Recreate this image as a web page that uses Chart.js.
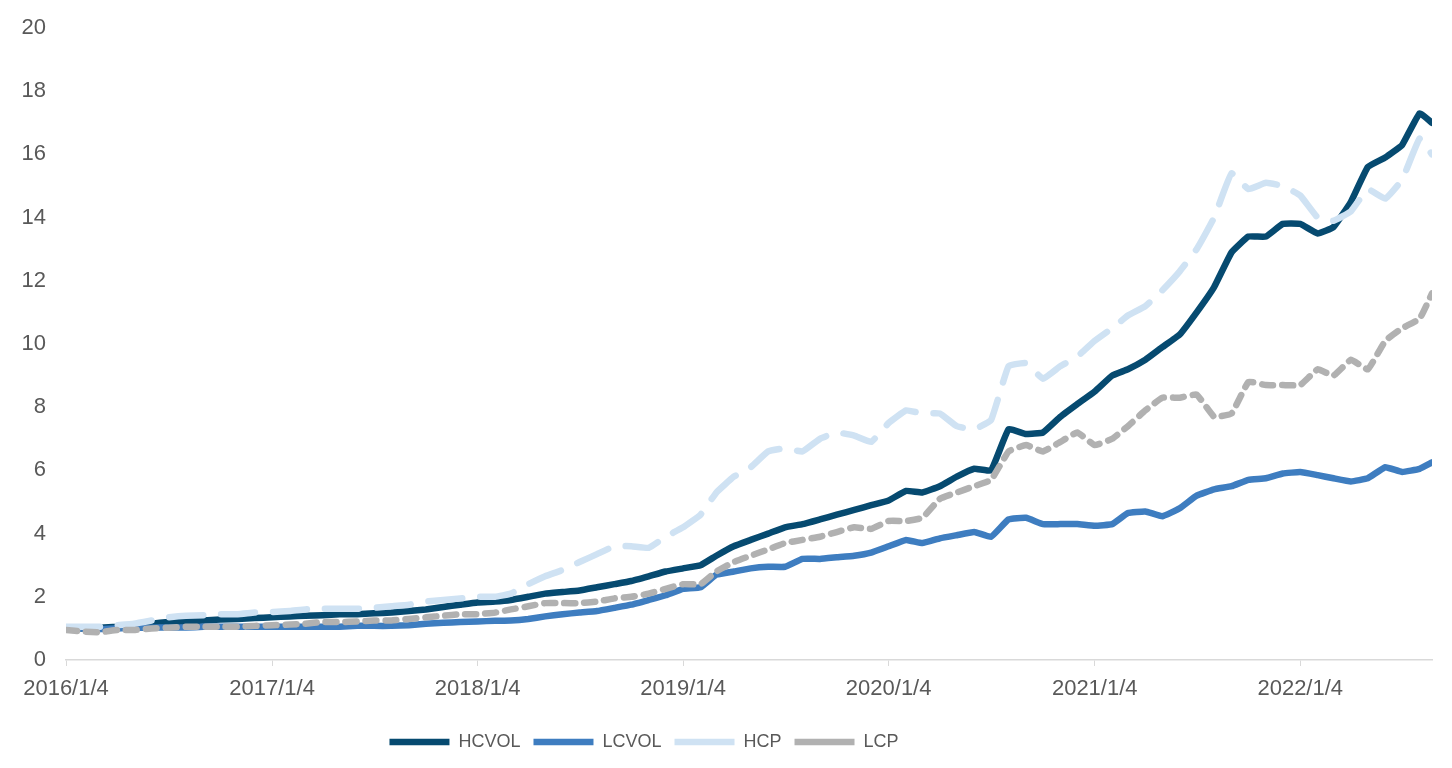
<!DOCTYPE html>
<html>
<head>
<meta charset="utf-8">
<script src="https://cdn.jsdelivr.net/npm/chart.js@4.4.1/dist/chart.umd.min.js"></script>
<style>
  html, body { margin: 0; padding: 0; background: #fff; }
  #wrap { width: 1452px; height: 768px; }
</style>
</head>
<body>
<div id="wrap"><canvas id="myChart" width="1452" height="768"></canvas></div>
<script>
// month-start sample dates 2016/1/4 .. 2022/8/4, plus the last day
const START = "2016/1/4";
const LAST = "2022/8/26";
const dates = [];
for (let y = 2016; y <= 2022; y++) {
  for (let m = 1; m <= 12; m++) {
    if (y === 2022 && m > 8) break;
    dates.push(`${y}/${m}/4`);
  }
}
dates.push(LAST);

const tickLabels = ["2016/1/4", "2017/1/4", "2018/1/4", "2019/1/4", "2020/1/4", "2021/1/4", "2022/1/4"];
const yTicks = [0, 2, 4, 6, 8, 10, 12, 14, 16, 18, 20];

const seriesNames = ["HCVOL", "LCVOL", "HCP", "LCP"];

const hcvol = [
  1.0, 1.0, 1.02, 1.05, 1.1, 1.15, 1.2, 1.22, 1.25, 1.28, 1.3, 1.33,
  1.35, 1.38, 1.4, 1.42, 1.45, 1.45, 1.48, 1.5, 1.55, 1.6, 1.68, 1.75,
  1.82, 1.85, 1.9, 2.0, 2.1, 2.15, 2.2, 2.3, 2.4, 2.5, 2.65, 2.8,
  2.9, 3.0, 3.3, 3.6, 3.8, 4.0, 4.2, 4.3, 4.45, 4.6, 4.75, 4.9,
  5.05, 5.35, 5.3, 5.5, 5.8, 6.05, 6.0, 7.3, 7.15, 7.2, 7.7, 8.1,
  8.5, 9.0, 9.2, 9.5, 9.9, 10.3, 11.0, 11.8, 12.9, 13.4, 13.4, 13.8,
  13.8, 13.5, 13.7, 14.5, 15.6, 15.9, 16.3, 17.3,
  17.0
];
const lcvol = [
  1.0, 1.0, 0.98, 1.0, 1.02, 1.02, 1.03, 1.03, 1.05, 1.05, 1.05, 1.05,
  1.05, 1.05, 1.05, 1.05, 1.05, 1.08, 1.08, 1.08, 1.1, 1.15, 1.18, 1.2,
  1.22, 1.24, 1.25, 1.3, 1.38, 1.45, 1.5, 1.55, 1.65, 1.75, 1.9, 2.05,
  2.25, 2.3, 2.7, 2.8, 2.9, 2.95, 2.95, 3.2, 3.2, 3.25, 3.3, 3.4,
  3.6, 3.8, 3.7, 3.85, 3.95, 4.05, 3.9, 4.45, 4.5, 4.3, 4.3, 4.3,
  4.25, 4.3, 4.65, 4.7, 4.55, 4.8, 5.2, 5.4, 5.5, 5.7, 5.75, 5.9,
  5.95, 5.85, 5.75, 5.65, 5.75, 6.1, 5.95, 6.05,
  6.25
];
const hcp = [
  1.05, 1.05, 1.05, 1.1, 1.15, 1.25, 1.35, 1.4, 1.42, 1.45, 1.45, 1.5,
  1.52, 1.55, 1.6, 1.62, 1.62, 1.62, 1.65, 1.7, 1.75, 1.85, 1.9, 1.95,
  2.0, 2.0, 2.1, 2.4, 2.65, 2.85, 3.1, 3.35, 3.6, 3.6, 3.55, 3.9,
  4.2, 4.6, 5.3, 5.8, 6.1, 6.6, 6.7, 6.6, 7.0, 7.2, 7.1, 6.9,
  7.5, 7.9, 7.8, 7.8, 7.4, 7.3, 7.6, 9.3, 9.4, 8.9, 9.3, 9.6,
  10.1, 10.5, 10.9, 11.2, 11.7, 12.3, 13.0, 14.0, 15.4, 14.9, 15.1, 15.0,
  14.7, 14.0, 13.9, 14.2, 14.9, 14.6, 15.2, 16.5,
  16.0
];
const lcp = [
  0.95, 0.9, 0.88, 0.95, 0.95, 1.0, 1.02, 1.05, 1.05, 1.05, 1.05, 1.08,
  1.1, 1.12, 1.15, 1.2, 1.2, 1.22, 1.25, 1.25, 1.3, 1.35, 1.4, 1.45,
  1.45, 1.5, 1.6, 1.7, 1.8, 1.8, 1.8, 1.85, 1.95, 2.0, 2.1, 2.25,
  2.4, 2.4, 2.8, 3.1, 3.3, 3.5, 3.7, 3.8, 3.9, 4.05, 4.2, 4.15,
  4.4, 4.4, 4.5, 5.1, 5.3, 5.5, 5.7, 6.6, 6.8, 6.6, 6.9, 7.2,
  6.8, 7.0, 7.4, 7.9, 8.3, 8.3, 8.4, 7.7, 7.8, 8.8, 8.7, 8.7,
  8.7, 9.2, 9.0, 9.5, 9.2, 10.1, 10.5, 10.8,
  11.6
];

// days since 2016/1/4
const dayOf = (s) => {
  const [y, m, d] = s.split("/").map(Number);
  const [y0, m0, d0] = START.split("/").map(Number);
  return (Date.UTC(y, m - 1, d) - Date.UTC(y0, m0 - 1, d0)) / 86400000;
};
const toPoints = (vals) => vals.map((v, i) => ({ x: dayOf(dates[i]), y: v }));

const TICK_COLOR = "#595959";
const FONT = "'Liberation Sans', Arial, sans-serif";

// legend sits left of centre in the original
const legendShift = {
  id: "legendShift",
  afterLayout(chart) {
    chart.legend.left -= 72;
    chart.legend.right -= 72;
  },
};

const ctx = document.getElementById("myChart").getContext("2d");
const myChart = new Chart(ctx, {
  type: "line",
  data: {
    datasets: [
      {
        label: seriesNames[0],
        data: toPoints(hcvol),
        borderColor: "#064A70",
        backgroundColor: "#064A70",
        borderWidth: 6.5,
        order: 4,
      },
      {
        label: seriesNames[1],
        data: toPoints(lcvol),
        borderColor: "#3E7DC0",
        backgroundColor: "#3E7DC0",
        borderWidth: 6.5,
        order: 3,
      },
      {
        label: seriesNames[2],
        data: toPoints(hcp),
        borderColor: "#CFE2F3",
        backgroundColor: "#CFE2F3",
        borderWidth: 6.5,
        borderDash: [34, 18],
        order: 2,
      },
      {
        label: seriesNames[3],
        data: toPoints(lcp),
        borderColor: "#B1B1B1",
        backgroundColor: "#B1B1B1",
        borderWidth: 6.5,
        borderDash: [11, 9],
        order: 1,
      },
    ],
  },
  options: {
    responsive: false,
    animation: false,
    devicePixelRatio: 1,
    layout: { padding: { top: 28, right: 20, left: 0, bottom: 7 } },
    elements: {
      point: { radius: 0 },
      line: { tension: 0.1, borderCapStyle: "round", borderJoinStyle: "round" },
    },
    plugins: {
      tooltip: { enabled: false },
      legend: {
        position: "bottom",
        labels: {
          usePointStyle: true,
          pointStyle: "line",
          pointStyleWidth: 60,
          padding: 13,
          color: TICK_COLOR,
          font: { family: FONT, size: 18 },
          sort: (a, b) => a.datasetIndex - b.datasetIndex,
        },
      },
    },
    scales: {
      x: {
        type: "linear",
        min: 0,
        max: dayOf(LAST),
        afterBuildTicks: (scale) => {
          scale.ticks = tickLabels.map((t) => ({ value: dayOf(t) }));
        },
        afterFit: (scale) => {
          scale.height = 60;
        },
        ticks: {
          color: TICK_COLOR,
          font: { family: FONT, size: 22 },
          padding: 10,
          maxRotation: 0,
          autoSkip: false,
          callback: (v) => tickLabels.find((t) => dayOf(t) === v) || "",
        },
        grid: {
          drawOnChartArea: false,
          drawTicks: true,
          tickLength: 6,
          color: "#D9D9D9",
        },
        border: { display: true, color: "#D9D9D9", width: 1.5 },
      },
      y: {
        min: 0,
        max: 20,
        afterBuildTicks: (scale) => {
          scale.ticks = yTicks.map((v) => ({ value: v }));
        },
        afterFit: (scale) => {
          scale.width = 66;
        },
        ticks: {
          color: TICK_COLOR,
          font: { family: FONT, size: 22 },
          padding: 3,
        },
        // hidden tick marks only to push the labels left
        grid: { display: false, drawTicks: true, tickLength: 17 },
        border: { display: false },
      },
    },
  },
  plugins: [legendShift],
});
</script>
</body>
</html>
